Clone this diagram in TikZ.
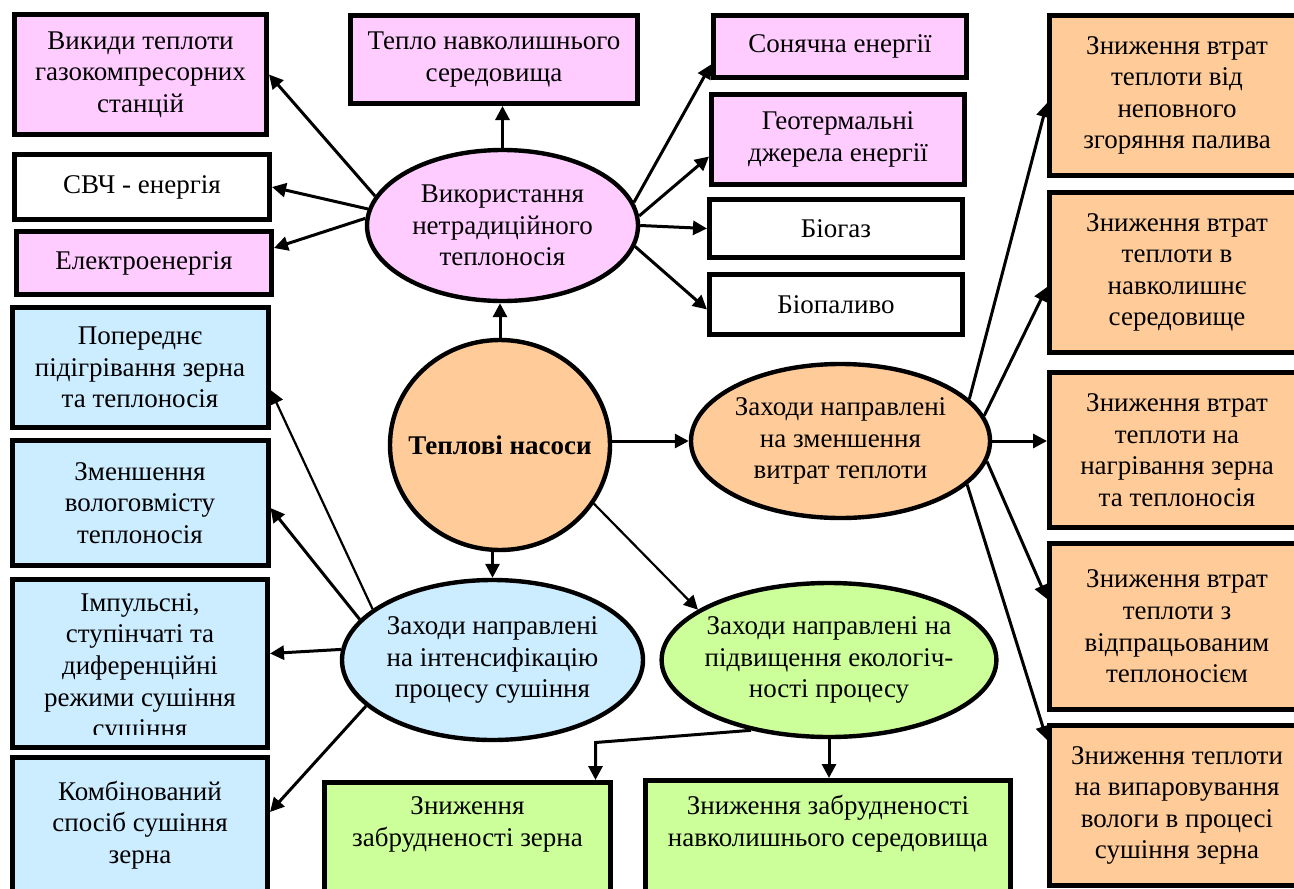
\documentclass[tikz,border=0pt]{standalone}
\usepackage{fontspec}
\setmainfont{Liberation Serif}
\usepackage{tikz}
\usetikzlibrary{arrows.meta,shapes.geometric}
\definecolor{SchemePink}{HTML}{FFCCFF}
\definecolor{SchemeBlue}{HTML}{CCECFF}
\definecolor{SchemeOrange}{HTML}{FFCC99}
\definecolor{SchemeGreen}{HTML}{CCFF99}
\newcommand{\fs}{\fontsize{13.5}{15.8}\selectfont}
\tikzset{
  box/.style={draw,line width=2.5pt,align=center,inner sep=0pt,font=\fs},
  pinkbox/.style={box,fill=SchemePink},
  plainbox/.style={box,fill=white},
  bluebox/.style={box,fill=SchemeBlue,minimum width=128pt},
  lossbox/.style={box,fill=SchemeOrange,minimum width=127.5pt},
  greenbox/.style={box,fill=SchemeGreen},
  oval/.style={ellipse,draw,line width=2.2pt,align=center,inner sep=0pt,font=\fs},
  arr/.style={-{Triangle[length=7pt,width=7pt]},line width=1.5pt},
  thinarr/.style={arr,line width=1.1pt}
}

\begin{document}
\begin{tikzpicture}[x=0.5pt,y=-0.5pt]
  \useasboundingbox (0,0) rectangle (1294,888);
  % sources of heat
  \node[oval,fill=SchemePink,minimum width=135.5pt,minimum height=75.5pt] (vykor) at (502.5,225.5) {Використання\\нетрадиційного\\теплоносія};
  \node[pinkbox,minimum width=126pt,minimum height=60pt] (vykydy) at (140.5,74.5) {Викиди теплоти\\газокомпресорних\\станцій};
  \node[pinkbox,minimum width=143.5pt,minimum height=44pt] (teplo) at (494,59.5) {Тепло навколишнього\\середовища};
  \node[pinkbox,minimum width=126.5pt,minimum height=31pt] (sonce) at (840,46.5) {Сонячна енергії};
  \node[pinkbox,minimum width=126.5pt,minimum height=45pt] (geoterm) at (838,139.5) {Геотермальні\\джерела енергії};
  \node[plainbox,minimum width=126.5pt,minimum height=29pt] (biogaz) at (836,228.5) {Біогаз};
  \node[plainbox,minimum width=126.5pt,minimum height=30pt] (biopal) at (836,304.5) {Біопаливо};
  \node[plainbox,minimum width=127.5pt,minimum height=32.5pt] (svch) at (142,187) {СВЧ - енергія};
  \node[pinkbox,minimum width=127.5pt,minimum height=31.5pt] (elektro) at (144,263) {Електроенергія};

  % heat pumps and measures
  \node[oval,fill=SchemeOrange,minimum width=110pt,minimum height=105pt,inner xsep=-7pt] (nasosy) at (500,445) {\textbf{Теплові насоси}};
  \node[oval,fill=SchemeOrange,minimum width=148.5pt,minimum height=77pt] (zmensh) at (840.5,441) {Заходи направлені\\на зменшення\\витрат теплоти};
  \node[oval,fill=SchemeBlue,minimum width=150.5pt,minimum height=80pt] (intens) at (492.5,660) {Заходи направлені\\на інтенсифікацію\\процесу сушіння};
  \node[oval,fill=SchemeGreen,minimum width=167pt,minimum height=77pt,inner xsep=-3pt] (ekol) at (829,660) {Заходи направлені на\\підвищення екологіч-\\ності процесу};

  % drying
  \node[bluebox,minimum height=60pt] (poper) at (140,367.5) {Попереднє\\підігрівання зерна\\та теплоносія};
  \node[bluebox,minimum height=62.5pt] (volog) at (140,503) {Зменшення\\вологовмісту\\теплоносія};
  \node[bluebox,minimum width=127.5pt,minimum height=84pt,
    path picture={
      \clip ([yshift=-2pt]path picture bounding box.north west) rectangle ([yshift=6.5pt]path picture bounding box.south east);
      \node[align=center,font=\fs] at ([yshift=-2.5pt]path picture bounding box.center) {Імпульсні,\\ступінчаті та\\диференційні\\режими сушіння\\сушіння};
    }] (impuls) at (140,663.5) {};
  \node[bluebox,minimum width=127.5pt,minimum height=67.5pt] (kombi) at (140,825) {Комбінований\\спосіб сушіння\\зерна};

  % losses
  \node[lossbox,minimum height=80pt] (vtr1) at (1177,95.5) {Зниження втрат\\теплоти від\\неповного\\згоряння палива};
  \node[lossbox,minimum height=80pt] (vtr2) at (1177,272.5) {Зниження втрат\\теплоти в\\навколишнє\\середовище};
  \node[lossbox,minimum height=77.5pt] (vtr3) at (1177,450) {Зниження втрат\\теплоти на\\нагрівання зерна\\та теплоносія};
  \node[lossbox,minimum height=83pt] (vtr4) at (1177,626.5) {Зниження втрат\\теплоти з\\відпрацьованим\\теплоносієм};
  \node[lossbox,minimum height=80pt] (vtr5) at (1177,805.5) {Зниження теплоти\\на випаровування\\вологи в процесі\\сушіння зерна};

  % ecology
  \node[greenbox,minimum width=143pt,minimum height=55pt] (zerno) at (467.5,837.5) {Зниження\\забрудненості зерна\\\mbox{}};
  \node[greenbox,minimum width=182.5pt,minimum height=56pt] (seredov) at (828,836.5) {Зниження забрудненості\\навколишнього середовища\\\mbox{}};

  % connectors
  \draw[arr] (vykor.north) -- (vykor.north |- teplo.south);
  \draw[arr] (vykor.167) -- (vykydy.east);
  \draw[arr] (vykor.173) -- (svch.east);
  \draw[arr] (vykor.177) -- ([yshift=7.5pt]elektro.east);
  \draw[arr] (vykor.10) -- ([yshift=-9pt]sonce.west);
  \draw[arr] (vykor.4) -- ([yshift=-8.5pt]geoterm.west);
  \draw[arr] (vykor.east) -- (biogaz.west);
  \draw[arr] (vykor.-9) -- ([yshift=-2.5pt]biopal.west);

  \draw[arr] (nasosy.north) -- (nasosy.north |- vykor.south);
  \draw[arr] (nasosy.east |- zmensh.west) -- (zmensh.west);
  \draw[arr] (intens.north |- nasosy.south) -- (intens.north);
  \draw[thinarr] (nasosy.-32) -- (ekol.159);

  \draw[arr] (zmensh.18) -- ([yshift=-3.75pt]vtr1.west);
  \draw[arr] (zmensh.10) -- ([yshift=-7.25pt]vtr2.west);
  \draw[arr] (zmensh.east) -- (zmensh.east -| vtr3.west);
  \draw[arr] (zmensh.-8.5) -- ([yshift=13.75pt]vtr4.west);
  \draw[arr] (zmensh.-19.5) -- ([yshift=32.75pt]vtr5.west);

  \draw[thinarr] (intens.157) -- ([yshift=-11.25pt]poper.east);
  \draw[arr] (intens.163) -- ([yshift=-2.5pt]volog.east);
  \draw[arr] (intens.176) -- ([yshift=5pt]impuls.east);
  \draw[arr] (intens.200) -- ([yshift=6.5pt]kombi.east);

  \draw[arr] (ekol.222) -- ([xshift=-8.75pt,yshift=18.75pt]zerno.north east) -- ([xshift=-8.75pt]zerno.north east);
  \draw[arr] (ekol.south) -- (ekol.south |- seredov.north);
\end{tikzpicture}
\end{document}
